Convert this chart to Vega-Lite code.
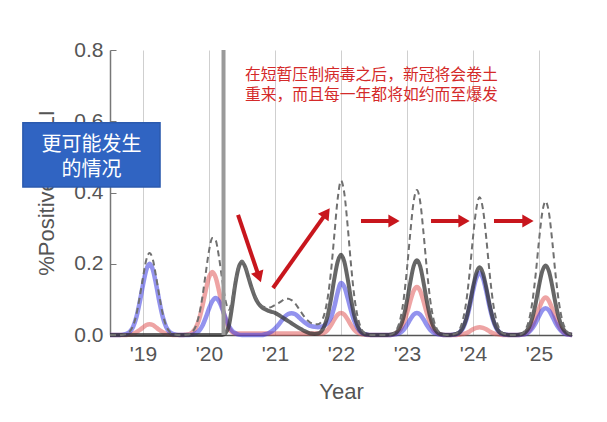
{
  "$schema": "https://vega.github.io/schema/vega-lite/v6.json",
  "width": 462,
  "height": 285,
  "autosize": {"type": "none"},
  "padding": {"left": 110, "top": 50, "right": 35, "bottom": 87},
  "background": "white",
  "config": {"view": {"stroke": null}, "font": "Liberation Sans"},
  "datasets": {
    "curve": [
      {"t":2018.5,"blue":0,"red":0,"black":0,"total":0},
      {"t":2018.6,"blue":0,"red":0,"black":0,"total":0},
      {"t":2018.65,"blue":0,"red":0,"black":0,"total":0},
      {"t":2018.7,"blue":0.001,"red":0,"black":0,"total":0.001},
      {"t":2018.75,"blue":0.003,"red":0,"black":0,"total":0.003},
      {"t":2018.8,"blue":0.009,"red":0.001,"black":0,"total":0.010},
      {"t":2018.85,"blue":0.023,"red":0.003,"black":0,"total":0.026},
      {"t":2018.9,"blue":0.05,"red":0.008,"black":0,"total":0.058},
      {"t":2018.95,"blue":0.092,"red":0.014,"black":0,"total":0.106},
      {"t":2019.0,"blue":0.141,"red":0.021,"black":0,"total":0.162},
      {"t":2019.05,"blue":0.183,"red":0.028,"black":0,"total":0.211},
      {"t":2019.1,"blue":0.2,"red":0.03,"black":0,"total":0.23},
      {"t":2019.15,"blue":0.183,"red":0.028,"black":0,"total":0.211},
      {"t":2019.2,"blue":0.141,"red":0.021,"black":0,"total":0.162},
      {"t":2019.25,"blue":0.092,"red":0.014,"black":0,"total":0.106},
      {"t":2019.3,"blue":0.05,"red":0.008,"black":0,"total":0.058},
      {"t":2019.35,"blue":0.023,"red":0.003,"black":0,"total":0.026},
      {"t":2019.4,"blue":0.009,"red":0.001,"black":0,"total":0.010},
      {"t":2019.45,"blue":0.003,"red":0,"black":0,"total":0.003},
      {"t":2019.5,"blue":0.001,"red":0,"black":0,"total":0.001},
      {"t":2019.55,"blue":0,"red":0,"black":0,"total":0},
      {"t":2019.6,"blue":0,"red":0,"black":0,"total":0},
      {"t":2019.65,"blue":0,"red":0.001,"black":0,"total":0.001},
      {"t":2019.7,"blue":0,"red":0.002,"black":0,"total":0.002},
      {"t":2019.75,"blue":0.001,"red":0.008,"black":0,"total":0.009},
      {"t":2019.8,"blue":0.005,"red":0.02,"black":0,"total":0.025},
      {"t":2019.85,"blue":0.012,"red":0.044,"black":0,"total":0.056},
      {"t":2019.9,"blue":0.026,"red":0.081,"black":0,"total":0.107},
      {"t":2019.95,"blue":0.048,"red":0.125,"black":0,"total":0.173},
      {"t":2020.0,"blue":0.074,"red":0.162,"black":0,"total":0.236},
      {"t":2020.05,"blue":0.095,"red":0.177,"black":0,"total":0.272},
      {"t":2020.1,"blue":0.104,"red":0.162,"black":0,"total":0.266},
      {"t":2020.15,"blue":0.095,"red":0.125,"black":0,"total":0.22},
      {"t":2020.2,"blue":0.074,"red":0.081,"black":0,"total":0.155},
      {"t":2020.25,"blue":0.048,"red":0.044,"black":0.005,"total":0.097},
      {"t":2020.3,"blue":0.026,"red":0.02,"black":0.025,"total":0.071},
      {"t":2020.35,"blue":0.012,"red":0.008,"black":0.08,"total":0.1},
      {"t":2020.4,"blue":0.005,"red":0.004,"black":0.145,"total":0.154},
      {"t":2020.45,"blue":0.001,"red":0.004,"black":0.19,"total":0.195},
      {"t":2020.5,"blue":0,"red":0.004,"black":0.205,"total":0.209},
      {"t":2020.55,"blue":0,"red":0.004,"black":0.19,"total":0.194},
      {"t":2020.6,"blue":0,"red":0.004,"black":0.16,"total":0.164},
      {"t":2020.65,"blue":0,"red":0.004,"black":0.13,"total":0.134},
      {"t":2020.7,"blue":0,"red":0.004,"black":0.105,"total":0.109},
      {"t":2020.75,"blue":0,"red":0.004,"black":0.088,"total":0.092},
      {"t":2020.8,"blue":0,"red":0.004,"black":0.078,"total":0.082},
      {"t":2020.85,"blue":0.002,"red":0.004,"black":0.072,"total":0.078},
      {"t":2020.9,"blue":0.005,"red":0.004,"black":0.068,"total":0.077},
      {"t":2020.95,"blue":0.01,"red":0.004,"black":0.065,"total":0.079},
      {"t":2021.0,"blue":0.018,"red":0.004,"black":0.062,"total":0.084},
      {"t":2021.05,"blue":0.028,"red":0.004,"black":0.057,"total":0.089},
      {"t":2021.1,"blue":0.04,"red":0.004,"black":0.051,"total":0.095},
      {"t":2021.15,"blue":0.052,"red":0.004,"black":0.045,"total":0.101},
      {"t":2021.2,"blue":0.059,"red":0.004,"black":0.039,"total":0.102},
      {"t":2021.25,"blue":0.061,"red":0.004,"black":0.033,"total":0.098},
      {"t":2021.3,"blue":0.059,"red":0.004,"black":0.027,"total":0.09},
      {"t":2021.35,"blue":0.052,"red":0.004,"black":0.021,"total":0.077},
      {"t":2021.4,"blue":0.043,"red":0.004,"black":0.016,"total":0.063},
      {"t":2021.45,"blue":0.035,"red":0.004,"black":0.011,"total":0.05},
      {"t":2021.5,"blue":0.029,"red":0.004,"black":0.007,"total":0.04},
      {"t":2021.55,"blue":0.025,"red":0.004,"black":0.004,"total":0.033},
      {"t":2021.6,"blue":0.023,"red":0.004,"black":0.003,"total":0.03},
      {"t":2021.65,"blue":0.022,"red":0.004,"black":0.004,"total":0.03},
      {"t":2021.7,"blue":0.023,"red":0.004,"black":0.01,"total":0.037},
      {"t":2021.75,"blue":0.027,"red":0.007,"black":0.026,"total":0.06},
      {"t":2021.8,"blue":0.035,"red":0.015,"black":0.056,"total":0.106},
      {"t":2021.85,"blue":0.05,"red":0.028,"black":0.103,"total":0.181},
      {"t":2021.9,"blue":0.08,"red":0.044,"black":0.159,"total":0.283},
      {"t":2021.95,"blue":0.12,"red":0.057,"black":0.206,"total":0.383},
      {"t":2022.0,"blue":0.146,"red":0.062,"black":0.225,"total":0.433},
      {"t":2022.05,"blue":0.135,"red":0.057,"black":0.206,"total":0.398},
      {"t":2022.1,"blue":0.105,"red":0.044,"black":0.159,"total":0.308},
      {"t":2022.15,"blue":0.07,"red":0.028,"black":0.103,"total":0.201},
      {"t":2022.2,"blue":0.04,"red":0.015,"black":0.056,"total":0.111},
      {"t":2022.25,"blue":0.02,"red":0.007,"black":0.026,"total":0.053},
      {"t":2022.3,"blue":0.008,"red":0.003,"black":0.01,"total":0.021},
      {"t":2022.35,"blue":0.003,"red":0.001,"black":0.003,"total":0.007},
      {"t":2022.4,"blue":0.001,"red":0,"black":0.001,"total":0.002},
      {"t":2022.45,"blue":0,"red":0,"black":0,"total":0},
      {"t":2022.7,"blue":0,"red":0,"black":0,"total":0},
      {"t":2022.75,"blue":0,"red":0,"black":0.001,"total":0.001},
      {"t":2022.8,"blue":0.001,"red":0.002,"black":0.003,"total":0.006},
      {"t":2022.85,"blue":0.003,"red":0.006,"black":0.009,"total":0.018},
      {"t":2022.9,"blue":0.007,"red":0.015,"black":0.024,"total":0.046},
      {"t":2022.95,"blue":0.015,"red":0.034,"black":0.052,"total":0.101},
      {"t":2023.0,"blue":0.028,"red":0.062,"black":0.096,"total":0.186},
      {"t":2023.05,"blue":0.044,"red":0.095,"black":0.148,"total":0.287},
      {"t":2023.1,"blue":0.057,"red":0.124,"black":0.193,"total":0.374},
      {"t":2023.15,"blue":0.062,"red":0.135,"black":0.21,"total":0.407},
      {"t":2023.2,"blue":0.057,"red":0.124,"black":0.193,"total":0.374},
      {"t":2023.25,"blue":0.044,"red":0.095,"black":0.148,"total":0.287},
      {"t":2023.3,"blue":0.028,"red":0.062,"black":0.096,"total":0.186},
      {"t":2023.35,"blue":0.015,"red":0.034,"black":0.052,"total":0.101},
      {"t":2023.4,"blue":0.007,"red":0.015,"black":0.024,"total":0.046},
      {"t":2023.45,"blue":0.003,"red":0.006,"black":0.009,"total":0.018},
      {"t":2023.5,"blue":0.001,"red":0.002,"black":0.003,"total":0.006},
      {"t":2023.55,"blue":0,"red":0,"black":0.001,"total":0.001},
      {"t":2023.6,"blue":0,"red":0,"black":0,"total":0},
      {"t":2023.65,"blue":0,"red":0,"black":0,"total":0},
      {"t":2023.7,"blue":0.001,"red":0,"black":0.001,"total":0.002},
      {"t":2023.75,"blue":0.002,"red":0,"black":0.003,"total":0.005},
      {"t":2023.8,"blue":0.008,"red":0.001,"black":0.008,"total":0.017},
      {"t":2023.85,"blue":0.02,"red":0.003,"black":0.022,"total":0.045},
      {"t":2023.9,"blue":0.044,"red":0.005,"black":0.047,"total":0.096},
      {"t":2023.95,"blue":0.08,"red":0.01,"black":0.087,"total":0.177},
      {"t":2024.0,"blue":0.124,"red":0.016,"black":0.134,"total":0.274},
      {"t":2024.05,"blue":0.16,"red":0.02,"black":0.174,"total":0.354},
      {"t":2024.1,"blue":0.175,"red":0.022,"black":0.19,"total":0.387},
      {"t":2024.15,"blue":0.16,"red":0.02,"black":0.174,"total":0.354},
      {"t":2024.2,"blue":0.124,"red":0.016,"black":0.134,"total":0.274},
      {"t":2024.25,"blue":0.08,"red":0.01,"black":0.087,"total":0.177},
      {"t":2024.3,"blue":0.044,"red":0.005,"black":0.047,"total":0.096},
      {"t":2024.35,"blue":0.02,"red":0.003,"black":0.022,"total":0.045},
      {"t":2024.4,"blue":0.008,"red":0.001,"black":0.008,"total":0.017},
      {"t":2024.45,"blue":0.002,"red":0,"black":0.003,"total":0.005},
      {"t":2024.5,"blue":0.001,"red":0,"black":0.001,"total":0.002},
      {"t":2024.55,"blue":0,"red":0,"black":0,"total":0},
      {"t":2024.65,"blue":0,"red":0,"black":0,"total":0},
      {"t":2024.7,"blue":0,"red":0,"black":0.001,"total":0.001},
      {"t":2024.75,"blue":0.001,"red":0.001,"black":0.003,"total":0.005},
      {"t":2024.8,"blue":0.003,"red":0.005,"black":0.009,"total":0.017},
      {"t":2024.85,"blue":0.009,"red":0.012,"black":0.022,"total":0.043},
      {"t":2024.9,"blue":0.019,"red":0.026,"black":0.049,"total":0.094},
      {"t":2024.95,"blue":0.034,"red":0.048,"black":0.089,"total":0.171},
      {"t":2025.0,"blue":0.053,"red":0.074,"black":0.138,"total":0.265},
      {"t":2025.05,"blue":0.069,"red":0.096,"black":0.179,"total":0.344},
      {"t":2025.1,"blue":0.075,"red":0.105,"black":0.195,"total":0.375},
      {"t":2025.15,"blue":0.069,"red":0.096,"black":0.179,"total":0.344},
      {"t":2025.2,"blue":0.053,"red":0.074,"black":0.138,"total":0.265},
      {"t":2025.25,"blue":0.034,"red":0.048,"black":0.089,"total":0.171},
      {"t":2025.3,"blue":0.019,"red":0.026,"black":0.049,"total":0.094},
      {"t":2025.35,"blue":0.009,"red":0.012,"black":0.022,"total":0.043},
      {"t":2025.4,"blue":0.003,"red":0.005,"black":0.009,"total":0.017},
      {"t":2025.45,"blue":0.001,"red":0.001,"black":0.003,"total":0.005},
      {"t":2025.5,"blue":0,"red":0,"black":0.001,"total":0.001}
    ]
  },
  "layer": [
    {
      "data": {"name": "curve"},
      "mark": {"type": "line", "interpolate": "monotone", "color": "#e05a5a", "opacity": 0.55, "strokeWidth": 4.5},
      "encoding": {
        "x": {"field": "t", "type": "quantitative",
          "scale": {"domain": [2018.5, 2025.5], "nice": false, "zero": false},
          "axis": {"values": [2019,2020,2021,2022,2023,2024,2025], "format": "d", "labelExpr": "\"'\" + slice(datum.label, 2)",
            "grid": true, "gridColor": "#cfcfcf", "gridWidth": 1, "ticks": false, "domainColor": "#555", "domainWidth": 1.5,
            "labelFontSize": 21, "labelColor": "#555", "labelPadding": 8, "title": "Year", "titleFontSize": 22,
            "titleColor": "#555", "titleFontWeight": "normal", "titlePadding": 17, "zindex": 0}},
        "y": {"field": "red", "type": "quantitative",
          "scale": {"domain": [0, 0.8], "nice": false},
          "axis": {"values": [0,0.05,0.1,0.15,0.2,0.25,0.3,0.35,0.4,0.45,0.5,0.55,0.6,0.65,0.7,0.75,0.8],
            "labelExpr": "round(datum.value*20) % 4 == 0 ? format(datum.value, '.1f') : ''",
            "grid": false, "tickSize": -6, "tickColor": "#777", "domainColor": "#777", "domainWidth": 1.5,
            "labelFontSize": 21, "labelColor": "#555", "labelPadding": 13, "title": "%Positive × %ILI", "titleFontSize": 22,
            "titleColor": "#555", "titleFontWeight": "normal", "titleX": -52, "zindex": 0}}
      }
    },
    {
      "data": {"name": "curve"},
      "mark": {"type": "line", "interpolate": "monotone", "color": "#3a3ae0", "opacity": 0.55, "strokeWidth": 4.5},
      "encoding": {"x": {"field": "t", "type": "quantitative"}, "y": {"field": "blue", "type": "quantitative"}}
    },
    {
      "data": {"name": "curve"},
      "mark": {"type": "line", "interpolate": "monotone", "color": "#333333", "opacity": 0.75, "strokeWidth": 4},
      "encoding": {"x": {"field": "t", "type": "quantitative"}, "y": {"field": "black", "type": "quantitative"}}
    },
    {
      "data": {"name": "curve"},
      "mark": {"type": "line", "interpolate": "monotone", "color": "#707070", "strokeWidth": 2, "strokeDash": [6, 4]},
      "encoding": {"x": {"field": "t", "type": "quantitative"}, "y": {"field": "total", "type": "quantitative"}}
    },
    {
      "data": {"values": [{"t": 2020.22}]},
      "mark": {"type": "rule", "color": "#9a9a9a", "strokeWidth": 4},
      "encoding": {"x": {"field": "t", "type": "quantitative"}}
    },
    {
      "data": {"values": [
        {"x": 2020.44, "y": 0.337, "x2": 2020.758, "y2": 0.163},
        {"x": 2020.97, "y": 0.132, "x2": 2021.78, "y2": 0.343},
        {"x": 2022.303, "y": 0.32, "x2": 2022.803, "y2": 0.32},
        {"x": 2023.364, "y": 0.32, "x2": 2023.864, "y2": 0.32},
        {"x": 2024.318, "y": 0.32, "x2": 2024.833, "y2": 0.32}
      ]},
      "mark": {"type": "rule", "color": "#c8161d", "strokeWidth": 4},
      "encoding": {
        "x": {"field": "x", "type": "quantitative"}, "y": {"field": "y", "type": "quantitative"},
        "x2": {"field": "x2"}, "y2": {"field": "y2"}
      }
    },
    {
      "data": {"values": [{"x": 2020.758, "y": 0.163}]},
      "mark": {"type": "point", "shape": "triangle-up", "angle": 161, "filled": true, "color": "#c8161d", "opacity": 1, "size": 170},
      "encoding": {"x": {"field": "x", "type": "quantitative"}, "y": {"field": "y", "type": "quantitative"}}
    },
    {
      "data": {"values": [{"x": 2021.78, "y": 0.343}]},
      "mark": {"type": "point", "shape": "triangle-up", "angle": 35, "filled": true, "color": "#c8161d", "opacity": 1, "size": 170},
      "encoding": {"x": {"field": "x", "type": "quantitative"}, "y": {"field": "y", "type": "quantitative"}}
    },
    {
      "data": {"values": [{"x": 2022.803, "y": 0.32}, {"x": 2023.864, "y": 0.32}, {"x": 2024.833, "y": 0.32}]},
      "mark": {"type": "point", "shape": "triangle-right", "filled": true, "color": "#c8161d", "opacity": 1, "size": 170},
      "encoding": {"x": {"field": "x", "type": "quantitative"}, "y": {"field": "y", "type": "quantitative"}}
    },
    {
      "data": {"values": [
        {"x": 2020.545, "y": 0.729, "s": "在短暂压制病毒之后，新冠将会卷土"},
        {"x": 2020.545, "y": 0.674, "s": "重来，而且每一年都将如约而至爆发"}
      ]},
      "mark": {"type": "text", "align": "left", "baseline": "middle", "font": "Noto Sans CJK SC", "fontSize": 15.8, "color": "#d42a2a"},
      "encoding": {"x": {"field": "x", "type": "quantitative"}, "y": {"field": "y", "type": "quantitative"}, "text": {"field": "s"}}
    },
    {
      "data": {"values": [{"x": 2017.18, "x2": 2019.258, "y": 0.4157, "y2": 0.5955}]},
      "mark": {"type": "rect", "fill": "#3064c2", "stroke": "#2b5aae", "strokeWidth": 1.5},
      "encoding": {
        "x": {"field": "x", "type": "quantitative"}, "x2": {"field": "x2"},
        "y": {"field": "y", "type": "quantitative"}, "y2": {"field": "y2"}
      }
    },
    {
      "data": {"values": [
        {"x": 2018.22, "y": 0.534, "s": "更可能发生"},
        {"x": 2018.22, "y": 0.463, "s": "的情况"}
      ]},
      "mark": {"type": "text", "align": "center", "baseline": "middle", "font": "Noto Sans CJK SC", "fontSize": 20, "color": "white"},
      "encoding": {"x": {"field": "x", "type": "quantitative"}, "y": {"field": "y", "type": "quantitative"}, "text": {"field": "s"}}
    }
  ]
}
